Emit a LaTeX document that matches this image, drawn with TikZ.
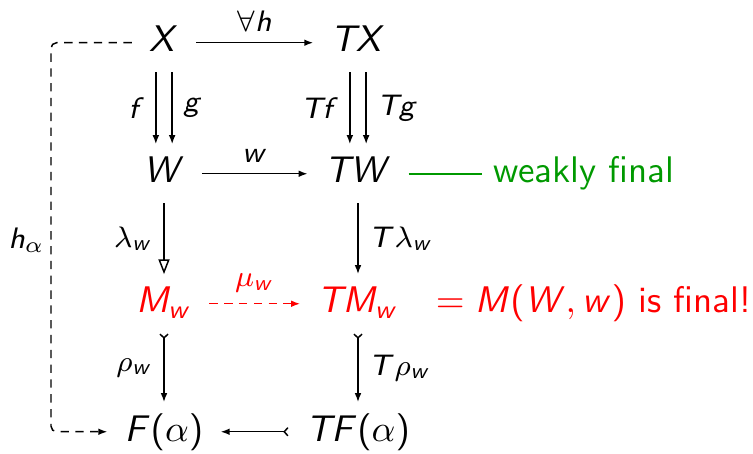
\documentclass[tikz,border=0pt]{standalone}
\usepackage{tikz}
\usetikzlibrary{arrows.meta}
\DeclareSymbolFont{sfletters}{OT1}{cmss}{m}{sl}
\SetSymbolFont{operators}{normal}{OT1}{cmss}{m}{n}
\newcount\lettercount
\lettercount=65
\loop
  \mathcode\lettercount=\numexpr"7000+\symsfletters*"100+\lettercount\relax
  \advance\lettercount by 1
\ifnum\lettercount<91 \repeat
\lettercount=97
\loop
  \mathcode\lettercount=\numexpr"7000+\symsfletters*"100+\lettercount\relax
  \advance\lettercount by 1
\ifnum\lettercount<123 \repeat

\begin{document}
\begin{tikzpicture}[x=0.27pt,y=-0.27pt,
    >={Latex[length=2.4pt,width=1.8pt]},
    obj/.style={anchor=base,inner xsep=4.5pt,inner ysep=3.3pt,text height=0.7em,text depth=0.2em},
    lbl/.style={inner sep=2.8pt,font=\fontsize{8}{9.6}\selectfont},
    txt/.style={anchor=base west,inner sep=3pt,font=\sffamily},
    mono/.style={arrows={Straight Barb[reversed,length=1pt,width=2.2pt]-Latex[length=2.4pt,width=1.8pt]}},
    dashy/.style={dash pattern=on 2.25pt off 1.75pt}]
	\useasboundingbox (0,0) rectangle (753,454);
	\node[obj] (X) at (164,52) {$X$};
	\node[obj] (TX) at (358,52) {$TX$};
	\node[obj] (W) at (164,183) {$W$};
	\node[obj] (TW) at (358,183) {$TW$};
	\node[obj,red] (M) at (164,313) {$M_w$};
	\node[obj,red] (TM) at (358,313) {$TM_w$};
	\node[obj] (F) at (164,441) {$F(\alpha)$};
	\node[obj] (TF) at (358,441) {$TF(\alpha)$};
	\node[txt,green!60!black] (weak) at (482,183) {weakly final};
	\node[txt,red] (final) at (424,313) {$= M(W,w)$ is final!};
	\draw[->] (X) -- node[lbl,above]{$\forall h$} (TX);
	\draw[->] (W) -- node[lbl,above]{$w$} (TW);
	\draw[->] ([xshift=-2.2pt]X.south) -- node[lbl,left]{$f$} ([xshift=-2.2pt]W.north);
	\draw[->] ([xshift=2.2pt]X.south) -- node[lbl,right]{$g$} ([xshift=2.2pt]W.north);
	\draw[->] ([xshift=-2.2pt]TX.south) -- node[lbl,left]{$Tf$} ([xshift=-2.2pt]TW.north);
	\draw[->] ([xshift=2.2pt]TX.south) -- node[lbl,right]{$Tg$} ([xshift=2.2pt]TW.north);
	\draw[-{Triangle[open,length=4pt,width=3pt]}] (W) -- node[lbl,left]{$\lambda_w$} (M);
	\draw[->] (TW) -- node[lbl,right]{$T\lambda_w$} (TM);
	\draw[->,red,dashy] (M) -- node[lbl,above]{$\mu_w$} (TM);
	\draw[mono] (M) -- node[lbl,left]{$\rho_w$} (F);
	\draw[mono] (TM) -- node[lbl,right]{$T\rho_w$} (TF);
	\draw[mono] (TF) -- (F);
	\coordinate (hleft) at (51,240);
	\draw[->,dashy,rounded corners=1.5pt] (X) -| (hleft) node[lbl,left,inner sep=1.5pt]{$h_\alpha$} |- (F);
	\draw[green!60!black,line width=0.5pt] (TW) -- (weak);
\end{tikzpicture}
\end{document}
